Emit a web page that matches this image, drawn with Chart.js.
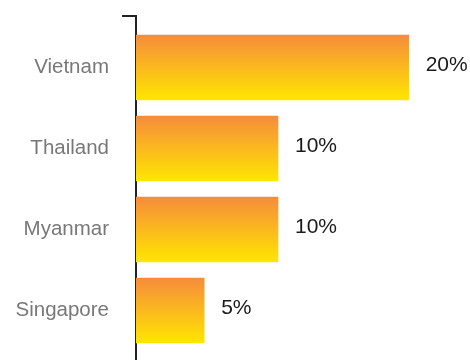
<!DOCTYPE html>
<html>
<head>
<meta charset="utf-8">
<script src="https://cdn.jsdelivr.net/npm/chart.js@4/dist/chart.umd.min.js"></script>
<style>
  html, body { margin: 0; padding: 0; background: #ffffff; }
  #wrap { width: 470px; height: 360px; position: relative; }
</style>
</head>
<body>
<div id="wrap"><canvas id="c"></canvas></div>
<script>
const categories = ['Vietnam', 'Thailand', 'Myanmar', 'Singapore'];
const shares = [19.2, 10, 10, 4.8];
const valueLabels = ['20%', '10%', '10%', '5%'];

const FONT = "'Liberation Sans', Arial, Helvetica, sans-serif";
const Y_MIN = -0.636;
const Y_MAX = 3.611;

const points = categories.map((c, i) => ({ x: shares[i], y: i }));

function barGradient(ctx) {
  const chart = ctx.chart;
  const ys = chart.scales && chart.scales.y;
  if (!chart.chartArea || !ys || ctx.raw == null) return '#F9A52A';
  const center = ys.getPixelForValue(ctx.raw.y);
  if (!isFinite(center)) return '#F9A52A';
  const g = chart.ctx.createLinearGradient(0, center - 32.5, 0, center + 32.5);
  g.addColorStop(0, '#F68C3B');
  g.addColorStop(1, '#FFE600');
  return g;
}

const valueLabelPlugin = {
  id: 'valueLabels',
  afterDatasetsDraw(chart) {
    const meta = chart.getDatasetMeta(0);
    const c = chart.ctx;
    c.save();
    c.font = '21px ' + FONT;
    c.fillStyle = '#1a1a1a';
    c.textAlign = 'left';
    c.textBaseline = 'middle';
    meta.data.forEach((el, i) => {
      c.fillText(valueLabels[i], el.x + 17, el.y - 2);
    });
    c.restore();
  }
};

new Chart(document.getElementById('c'), {
  type: 'bar',
  data: {
    datasets: [{
      data: points,
      backgroundColor: barGradient,
      borderWidth: 0,
      barThickness: 65
    }]
  },
  options: {
    indexAxis: 'y',
    responsive: true,
    maintainAspectRatio: false,
    animation: false,
    layout: { padding: { top: 16, right: 0, bottom: 0, left: 0 } },
    plugins: { legend: { display: false }, tooltip: { enabled: false } },
    scales: {
      x: { type: 'linear', display: false, min: 0, max: 23.52 },
      y: {
        type: 'linear',
        reverse: true,
        offset: false,
        bounds: 'data',
        min: Y_MIN,
        max: Y_MAX,
        z: 1,
        afterBuildTicks(scale) {
          scale.ticks = [Y_MIN].concat(categories.map((c, i) => i)).map(v => ({ value: v }));
        },
        afterFit(scale) {
          scale.width = 136;
          scale.paddingTop = 0;
          scale.paddingBottom = 0;
        },
        border: { display: true, color: '#222222', width: 2 },
        grid: {
          display: true,
          offset: false,
          drawOnChartArea: false,
          drawTicks: true,
          tickLength: 14,
          lineWidth: 2,
          color: (ctx) => (ctx.tick && Math.abs(ctx.tick.value - Y_MIN) < 1e-6) ? '#222222' : 'rgba(0,0,0,0)'
        },
        ticks: {
          autoSkip: false,
          padding: 13,
          color: '#787878',
          font: { family: FONT, size: 20.5 },
          callback: (v) => (Number.isInteger(v) && categories[v] !== undefined) ? categories[v] : ''
        }
      }
    }
  },
  plugins: [valueLabelPlugin]
});
</script>
</body>
</html>
